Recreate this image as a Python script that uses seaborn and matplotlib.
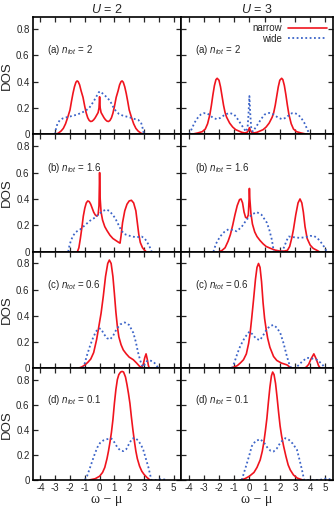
import matplotlib
matplotlib.use('Agg')
import matplotlib.pyplot as plt
import seaborn as sns

# ---- data: (a) n_tot=2, (b) 1.6, (c) 0.6, (d) 0.1 ----
# left column U = 2
a2_nar_x = [-3.0, -2.8, -2.6, -2.45, -2.3, -2.15, -2.0, -1.9, -1.8, -1.7, -1.6, -1.52, -1.45, -1.35, -1.25, -1.12,
            -1.0, -0.9, -0.8, -0.7, -0.6, -0.5, -0.4, -0.3, -0.2, -0.1, -0.04, 0, 0.04, 0.1, 0.2, 0.3, 0.4, 0.5,
            0.6, 0.7, 0.8, 0.9, 1.0, 1.12, 1.25, 1.35, 1.45, 1.52, 1.6, 1.7, 1.8, 1.9, 2.0, 2.15, 2.3, 2.45, 2.6,
            2.8, 3.0]
a2_nar_y = [0, 0.008, 0.025, 0.045, 0.08, 0.13, 0.185, 0.25, 0.31, 0.36, 0.395, 0.405, 0.40, 0.375, 0.33, 0.28,
            0.21, 0.16, 0.125, 0.105, 0.097, 0.10, 0.11, 0.125, 0.145, 0.165, 0.2, 0.285, 0.2, 0.165, 0.145, 0.125,
            0.11, 0.10, 0.097, 0.105, 0.125, 0.16, 0.21, 0.28, 0.33, 0.375, 0.40, 0.405, 0.395, 0.36, 0.31, 0.25,
            0.185, 0.13, 0.08, 0.045, 0.025, 0.008, 0]
a2_wide_x = [-3.02, -2.95, -2.85, -2.7, -2.5, -2.2, -2.0, -1.5, -1.0, -0.7, -0.4, -0.2, -0.05, 0.05, 0.2, 0.4,
             0.7, 1.0, 1.3, 1.6, 2.0, 2.4, 2.6, 2.8, 2.9, 3.0]
a2_wide_y = [0, 0.04, 0.08, 0.105, 0.12, 0.13, 0.135, 0.15, 0.175, 0.2, 0.25, 0.29, 0.32, 0.325, 0.31, 0.29,
             0.255, 0.19, 0.155, 0.14, 0.13, 0.115, 0.11, 0.09, 0.05, 0]

b2_nar_x = [-1.5, -1.4, -1.3, -1.2, -1.1, -1.0, -0.9, -0.8, -0.7, -0.6, -0.5, -0.4, -0.3, -0.2, -0.1, -0.04, 0,
            0.04, 0.1, 0.2, 0.35, 0.5, 0.7, 0.9, 1.1, 1.3, 1.38, 1.45, 1.55, 1.7, 1.85, 2.0, 2.15, 2.3, 2.45, 2.55,
            2.65, 2.75, 2.9, 3.05, 3.15]
b2_nar_y = [0, 0.03, 0.10, 0.18, 0.27, 0.33, 0.37, 0.385, 0.38, 0.36, 0.33, 0.30, 0.28, 0.27, 0.28, 0.35, 0.60,
            0.40, 0.30, 0.24, 0.19, 0.16, 0.125, 0.10, 0.085, 0.07, 0.065, 0.12, 0.22, 0.31, 0.36, 0.385, 0.39,
            0.37, 0.31, 0.22, 0.13, 0.07, 0.03, 0.01, 0]
b2_wide_x = [-2.12, -2.05, -1.95, -1.8, -1.6, -1.3, -1.0, -0.65, -0.3, 0.0, 0.25, 0.45, 0.65, 0.85, 1.05, 1.25,
             1.45, 1.65, 1.9, 2.2, 2.5, 2.84, 3.05, 3.2, 3.35, 3.45, 3.52]
b2_wide_y = [0, 0.04, 0.08, 0.12, 0.15, 0.17, 0.2, 0.235, 0.26, 0.29, 0.31, 0.32, 0.31, 0.285, 0.255, 0.21,
             0.165, 0.135, 0.125, 0.115, 0.11, 0.115, 0.1, 0.075, 0.045, 0.02, 0]

c2_nar_x = [-1.45, -1.2, -1.0, -0.8, -0.6, -0.4, -0.2, -0.05, 0.1, 0.25, 0.4, 0.55, 0.66, 0.78, 0.9, 1.0, 1.1,
            1.2, 1.3, 1.45, 1.6, 1.8, 2.0, 2.28, 2.5, 2.7, 2.84, 2.95, 3.05, 3.14, 3.22, 3.3, 3.36]
c2_nar_y = [0, 0.01, 0.025, 0.045, 0.07, 0.12, 0.22, 0.32, 0.42, 0.55, 0.7, 0.8, 0.826, 0.8, 0.7, 0.57, 0.43,
            0.32, 0.24, 0.18, 0.14, 0.11, 0.085, 0.065, 0.04, 0.015, 0.005, 0.03, 0.08, 0.11, 0.07, 0.02, 0]
c2_wide_x = [-1.1, -1.0, -0.85, -0.65, -0.45, -0.25, -0.05, 0.1, 0.3, 0.5, 0.7, 0.9, 1.15, 1.4, 1.7, 2.0, 2.28,
             2.45, 2.6, 2.73, 2.85, 2.95, 3.05, 3.2, 3.4, 3.63, 3.8, 3.97]
c2_wide_y = [0, 0.04, 0.1, 0.17, 0.23, 0.28, 0.305, 0.3, 0.26, 0.23, 0.22, 0.245, 0.30, 0.335, 0.35, 0.33, 0.27,
             0.2, 0.12, 0.065, 0.025, 0.01, 0.03, 0.055, 0.06, 0.05, 0.03, 0]

d2_nar_x = [-0.7, -0.3, 0.0, 0.2, 0.35, 0.5, 0.6, 0.7, 0.8, 0.9, 1.0, 1.1, 1.2, 1.3, 1.42, 1.52, 1.62, 1.75,
            1.85, 1.95, 2.05, 2.15, 2.25, 2.35, 2.45, 2.55, 2.7, 2.85, 3.0, 3.2, 3.4]
d2_nar_y = [0, 0.01, 0.03, 0.06, 0.1, 0.17, 0.23, 0.3, 0.38, 0.48, 0.61, 0.72, 0.8, 0.84, 0.86, 0.865, 0.86,
            0.82, 0.76, 0.69, 0.61, 0.5, 0.4, 0.31, 0.23, 0.17, 0.11, 0.07, 0.045, 0.02, 0]
d2_wide_x = [-1.0, -0.85, -0.7, -0.54, -0.35, -0.15, 0.03, 0.25, 0.5, 0.8, 1.0, 1.2, 1.4, 1.6, 1.8, 2.0, 2.2,
             2.4, 2.6, 2.8, 2.95, 3.1, 3.2, 3.3, 3.4, 3.5, 3.9, 4.1, 4.3, 4.5]
d2_wide_y = [0, 0.03, 0.08, 0.135, 0.2, 0.26, 0.295, 0.315, 0.325, 0.33, 0.3, 0.26, 0.235, 0.23, 0.245, 0.29,
             0.33, 0.335, 0.315, 0.28, 0.24, 0.18, 0.14, 0.1, 0.05, 0.0, 0, 0.006, 0.006, 0]

# right column U = 3
a3_nar_x = [-3.8, -3.4, -3.1, -2.9, -2.75, -2.6, -2.5, -2.4, -2.3, -2.2, -2.12, -2.0, -1.9, -1.8, -1.7, -1.6,
            -1.5, -1.3, -1.1, -0.9, -0.7, -0.5, -0.3, -0.15, -0.06, 0, 0.06, 0.15, 0.3, 0.5, 0.7, 0.9, 1.1, 1.3,
            1.5, 1.6, 1.7, 1.8, 1.9, 2.0, 2.12, 2.2, 2.3, 2.4, 2.5, 2.6, 2.75, 2.9, 3.1, 3.4, 3.8]
a3_nar_y = [0, 0.01, 0.02, 0.04, 0.08, 0.15, 0.22, 0.3, 0.37, 0.415, 0.425, 0.41, 0.36, 0.29, 0.22, 0.165,
            0.13, 0.085, 0.055, 0.035, 0.025, 0.015, 0.01, 0.015, 0.03, 0.05, 0.03, 0.015, 0.01, 0.015, 0.025,
            0.035, 0.055, 0.085, 0.13, 0.165, 0.22, 0.29, 0.36, 0.41, 0.425, 0.415, 0.37, 0.3, 0.22, 0.15, 0.08,
            0.04, 0.02, 0.01, 0]
a3_wide_x = [-3.95, -3.8, -3.6, -3.4, -3.2, -3.0, -2.8, -2.6, -2.4, -2.15, -1.9, -1.6, -1.3, -1.0, -0.8, -0.6,
             -0.4, -0.22, -0.12, -0.06, 0, 0.06, 0.12, 0.22, 0.4, 0.6, 0.8, 1.0, 1.3, 1.6, 1.9, 2.15, 2.4, 2.6,
             2.8, 3.0, 3.2, 3.4, 3.6, 3.8, 3.95]
a3_wide_y = [0, 0.04, 0.09, 0.125, 0.15, 0.16, 0.16, 0.145, 0.125, 0.115, 0.125, 0.15, 0.162, 0.15, 0.12, 0.085,
             0.05, 0.02, 0.05, 0.15, 0.29, 0.15, 0.05, 0.02, 0.05, 0.085, 0.12, 0.15, 0.162, 0.15, 0.125, 0.115,
             0.125, 0.145, 0.16, 0.16, 0.15, 0.125, 0.09, 0.04, 0]

b3_nar_x = [-2.0, -1.8, -1.6, -1.4, -1.25, -1.1, -0.95, -0.8, -0.65, -0.55, -0.45, -0.35, -0.25, -0.15, -0.07,
            -0.02, 0, 0.03, 0.1, 0.2, 0.35, 0.5, 0.7, 0.9, 1.1, 1.4, 1.7, 2.0, 2.3, 2.5, 2.65, 2.8, 2.9, 3.05, 3.2,
            3.33, 3.45, 3.55, 3.66, 3.8, 4.0, 4.2, 4.45, 4.6]
b3_nar_y = [0, 0.01, 0.03, 0.08, 0.13, 0.2, 0.28, 0.35, 0.395, 0.40, 0.37, 0.3, 0.26, 0.255, 0.28, 0.4, 0.48,
            0.4, 0.29, 0.21, 0.15, 0.115, 0.085, 0.06, 0.04, 0.025, 0.012, 0.005, 0.005, 0.01, 0.04, 0.11, 0.17,
            0.28, 0.37, 0.40, 0.37, 0.3, 0.19, 0.1, 0.05, 0.025, 0.01, 0]
b3_wide_x = [-2.37, -2.2, -1.93, -1.65, -1.38, -1.1, -0.83, -0.5, -0.17, 0.2, 0.49, 0.8, 1.15, 1.3, 1.48, 1.55,
             1.6, 2.15, 2.3, 2.45, 2.59, 2.92, 3.3, 3.7, 4.0, 4.24, 4.5, 4.75, 4.9, 5.1]
b3_wide_y = [0, 0.06, 0.115, 0.15, 0.17, 0.165, 0.155, 0.19, 0.245, 0.285, 0.30, 0.28, 0.22, 0.17, 0.09, 0.04,
             0, 0, 0.04, 0.085, 0.115, 0.11, 0.105, 0.11, 0.12, 0.12, 0.1, 0.065, 0.04, 0]

c3_nar_x = [-1.26, -1.0, -0.8, -0.6, -0.39, -0.2, -0.05, 0.05, 0.15, 0.27, 0.4, 0.5, 0.6, 0.7, 0.8, 0.9, 1.0,
            1.1, 1.2, 1.35, 1.59, 1.8, 2.1, 2.47, 2.65, 2.8, 3.6, 3.75, 3.9, 4.05, 4.24, 4.4, 4.55, 4.67]
c3_nar_y = [0, 0.01, 0.02, 0.04, 0.065, 0.11, 0.19, 0.27, 0.38, 0.52, 0.68, 0.77, 0.80, 0.77, 0.66, 0.5, 0.38,
            0.3, 0.23, 0.16, 0.09, 0.06, 0.04, 0.026, 0.01, 0, 0, 0.01, 0.03, 0.07, 0.11, 0.07, 0.02, 0]
c3_wide_x = [-1.15, -1.0, -0.8, -0.6, -0.3, 0.0, 0.2, 0.45, 0.7, 0.95, 1.15, 1.4, 1.59, 1.8, 2.03, 2.25, 2.47,
             2.6, 2.7, 2.85, 3.0, 3.2, 3.5, 3.8, 4.1, 4.45, 4.7, 4.9, 5.0]
c3_wide_y = [0, 0.04, 0.11, 0.17, 0.235, 0.28, 0.26, 0.225, 0.215, 0.26, 0.30, 0.325, 0.33, 0.31, 0.27, 0.19,
             0.09, 0.04, 0.01, 0, 0, 0.02, 0.055, 0.08, 0.075, 0.065, 0.04, 0.015, 0]

d3_nar_x = [-0.6, -0.3, 0.0, 0.3, 0.5, 0.71, 0.85, 0.95, 1.05, 1.15, 1.25, 1.35, 1.45, 1.53, 1.62, 1.72, 1.82,
            1.92, 2.02, 2.12, 2.25, 2.4, 2.55, 2.69, 2.9, 3.15, 3.5]
d3_nar_y = [0, 0.01, 0.03, 0.06, 0.1, 0.16, 0.23, 0.3, 0.39, 0.49, 0.62, 0.74, 0.83, 0.86, 0.84, 0.77, 0.66,
            0.54, 0.43, 0.35, 0.27, 0.19, 0.12, 0.08, 0.04, 0.015, 0]
d3_wide_x = [-0.5, -0.35, -0.17, 0.0, 0.16, 0.4, 0.71, 0.95, 1.2, 1.4, 1.59, 1.8, 2.05, 2.36, 2.6, 2.85, 3.13,
             3.3, 3.46, 3.6, 4.6, 4.9, 5.1, 5.3, 5.45]
d3_wide_y = [0, 0.06, 0.13, 0.2, 0.27, 0.31, 0.325, 0.3, 0.255, 0.232, 0.227, 0.25, 0.3, 0.333, 0.32, 0.29,
             0.24, 0.16, 0.08, 0, 0, 0.008, 0.013, 0.005, 0]

panel_labels = ['(a)', '(b)', '(c)', '(d)']
n_tot = ['2', '1.6', '0.6', '0.1']
col_titles = ['$U$ = 2', '$U$ = 3']
narrow = [[(a2_nar_x, a2_nar_y), (a3_nar_x, a3_nar_y)],
          [(b2_nar_x, b2_nar_y), (b3_nar_x, b3_nar_y)],
          [(c2_nar_x, c2_nar_y), (c3_nar_x, c3_nar_y)],
          [(d2_nar_x, d2_nar_y), (d3_nar_x, d3_nar_y)]]
wide = [[(a2_wide_x, a2_wide_y), (a3_wide_x, a3_wide_y)],
        [(b2_wide_x, b2_wide_y), (b3_wide_x, b3_wide_y)],
        [(c2_wide_x, c2_wide_y), (c3_wide_x, c3_wide_y)],
        [(d2_wide_x, d2_wide_y), (d3_wide_x, d3_wide_y)]]
xticks = [-4, -3, -2, -1, 0, 1, 2, 3, 4, 5]
yticks = [0, 0.2, 0.4, 0.6, 0.8]
ytick_labels = ['0', '0.2', '0.4', '0.6', '0.8']

sns.set_style('ticks')
plt.rcParams['font.family'] = ['Liberation Sans', 'DejaVu Sans']
plt.rcParams['mathtext.fontset'] = 'custom'
plt.rcParams['mathtext.it'] = 'Liberation Sans:italic'
plt.rcParams['mathtext.rm'] = 'Liberation Sans'

red = '#f0141e'
blue = '#3c64c8'

fig = plt.figure(figsize=(3.34, 5.11), dpi=100)
rows = [(0.7372, 0.2295), (0.5074, 0.2297), (0.2793, 0.2282), (0.0607, 0.2186)]
cols = [(0.0988, 0.4431), (0.5419, 0.4551)]

for r, (bot, h) in enumerate(rows):
    for c, (left, w) in enumerate(cols):
        ax = fig.add_axes([left, bot, w, h])
        nx, ny = narrow[r][c]
        wx, wy = wide[r][c]
        lab_n = 'narrow' if (r == 0 and c == 1) else None
        lab_w = 'wide' if (r == 0 and c == 1) else None
        sns.lineplot(x=nx, y=ny, ax=ax, color=red, lw=1.2, estimator=None, sort=False, label=lab_n)
        sns.lineplot(x=wx, y=wy, ax=ax, color=blue, lw=1.3, estimator=None, sort=False,
                     linestyle=(0, (1, 1.4)), label=lab_w)
        ax.set_xlim(-4.5, 5.5)
        ax.set_ylim(0, 0.89)
        ax.set_xticks(xticks)
        ax.set_yticks(yticks)
        ax.tick_params(direction='in', top=True, right=True, length=3.5, width=0.9,
                       labelsize=7, pad=2.5)
        for sp in ax.spines.values():
            sp.set_linewidth(1.2)
            sp.set_color('black')
        if c == 0:
            ax.set_yticklabels(ytick_labels)
            ax.set_ylabel('DOS', fontsize=9.5, labelpad=2)
        else:
            ax.set_yticklabels([])
            ax.set_ylabel('')
        if r == 3:
            ax.set_xticklabels([str(t) for t in xticks])
            ax.set_xlabel('\u03c9 \u2212 \u03bc', fontsize=10, labelpad=0,
                          family=['Liberation Serif', 'DejaVu Serif'])
        else:
            ax.set_xticklabels([])
            ax.set_xlabel('')
        if r == 0:
            ax.set_title(col_titles[c], fontsize=9, pad=3)
        ax.text(0.095, 0.715, panel_labels[r] + ' $n_{tot}$ = ' + n_tot[r], transform=ax.transAxes,
                fontsize=7, va='center', ha='left')
        if r == 0 and c == 1:
            ax.legend(loc='upper right', frameon=False, fontsize=7, markerfirst=False,
                      handlelength=4.0, handletextpad=0.6, labelspacing=0.05, borderaxespad=0.25)
        elif ax.get_legend() is not None:
            ax.get_legend().remove()

fig.savefig('out.png', dpi=100)
